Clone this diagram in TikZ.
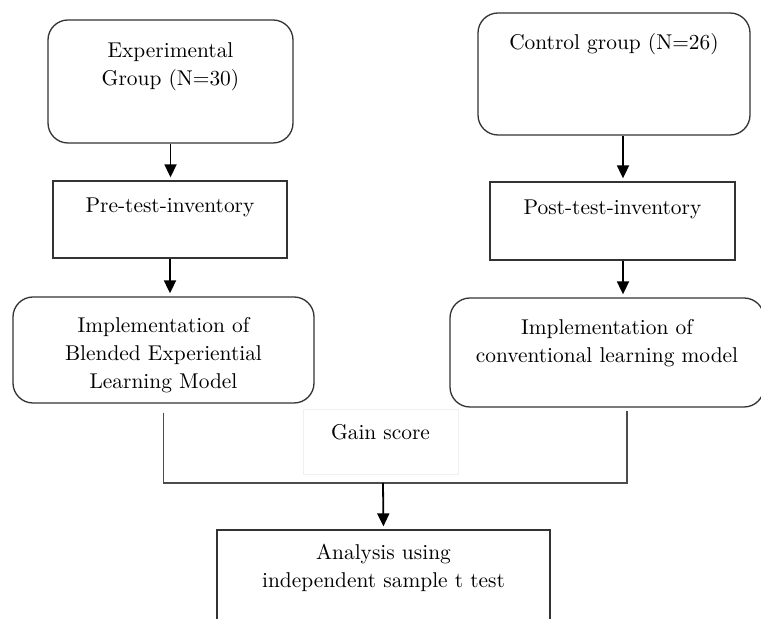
\documentclass[tikz,border=0pt]{standalone}
\usepackage{tikz}
\usetikzlibrary{arrows.meta}
\tikzset{every node/.style={font=\fontsize{10.7}{14}\selectfont, align=center,
        inner xsep=3pt, inner ysep=0pt},
    roundbox/.style={draw=black!80, line width=0.65pt, rounded corners=10pt},
    plainbox/.style={draw=black!80, line width=0.65pt},
    faintbox/.style={draw=black!6, line width=0.5pt},
    arrowline/.style={draw, line width=0.9pt, -{Triangle[width=6pt,length=6.5pt]}, shorten >=1.5pt},
    joinline/.style={draw=black!70, line width=0.65pt}}

\begin{document}
\begin{tikzpicture}[x=0.5pt, y=-0.5pt]
\useasboundingbox (0,0) rectangle (761,619);
\clip (0,0) rectangle (761,619);
% left column
\node[roundbox, text width=116.5pt, text height=19pt, text depth=42.5pt]
    (expgroup) at (170.5,81.5) {Experimental\\Group (N=30)};
\node[plainbox, text width=111pt, text height=16pt, text depth=22.5pt]
    (pretest) at (170,219.5) {Pre-test-inventory};
\node[roundbox, text width=144.5pt, text height=18pt, text depth=35pt]
    (implL) at (163.5,350) {Implementation of\\Blended Experiential\\Learning Model};
% right column
\node[roundbox, text width=130pt, text height=18.5pt, text depth=42.5pt]
    (ctrlgroup) at (614,74) {Control group (N=26)};
\node[plainbox, text width=116.5pt, text height=16.5pt, text depth=22.5pt]
    (posttest) at (612.5,221) {Post-test-inventory};
\node[roundbox, text width=151pt, text height=18.5pt, text depth=36pt]
    (implR) at (607,352.5) {Implementation of\\conventional learning model};
% bottom
\node[faintbox, text width=71.5pt, text height=15pt, text depth=17.5pt]
    (gain) at (380.5,442.5) {Gain score};
\node[plainbox, text width=160.5pt, text height=15pt, text depth=40pt]
    (analysis) at (383.5,585) {Analysis using\\independent sample t test};
\coordinate (joint) at (383,483);

\draw[arrowline] (expgroup.south) -- (expgroup.south |- pretest.north);
\draw[arrowline] (pretest.south) -- (pretest.south |- implL.north);
\draw[arrowline] ([xshift=4.5pt]ctrlgroup.south) -- ([xshift=4.5pt]ctrlgroup.south |- posttest.north);
\draw[arrowline] ([xshift=5.25pt]posttest.south) -- ([xshift=5.25pt]posttest.south |- implR.north);
\draw[joinline] ([yshift=-4.5pt]implL.south) |- (joint) -| ([xshift=10pt,yshift=-1.5pt]implR.south);
\draw[arrowline] (joint) -- (analysis.north);
\end{tikzpicture}
\end{document}
